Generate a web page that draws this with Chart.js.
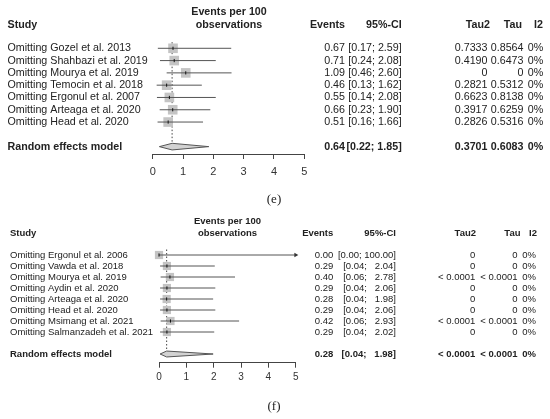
<!DOCTYPE html>
<html>
<head>
<meta charset="utf-8">
<script src="https://cdn.jsdelivr.net/npm/chart.js@4.4.1/dist/chart.umd.min.js"></script>
<style>
  body { margin: 0; background: #fff; width: 550px; height: 419px; overflow: hidden; position: relative; }
  canvas { position: absolute; left: 0; }
  #chartE { top: 0; }
  #chartF { top: 210px; }
</style>
</head>
<body>
<canvas id="chartE" width="550" height="210"></canvas>
<canvas id="chartF" width="550" height="209"></canvas>
<script>
// ---- panel (e) ----
var studiesE = ["Omitting Gozel et al. 2013", "Omitting Shahbazi et al. 2019", "Omitting Mourya et al. 2019",
  "Omitting Temocin et al. 2018", "Omitting Ergonul et al. 2007", "Omitting Arteaga et al. 2020", "Omitting Head et al. 2020"];
var eventsE = [0.67, 0.71, 1.09, 0.46, 0.55, 0.66, 0.51];
var lowerE = [0.17, 0.24, 0.46, 0.13, 0.14, 0.23, 0.16];
var upperE = [2.59, 2.08, 2.60, 1.62, 2.08, 1.90, 1.66];
var tau2E = ["0.7333", "0.4190", "0", "0.2821", "0.6623", "0.3917", "0.2826"];
var tauE = ["0.8564", "0.6473", "0", "0.5312", "0.8138", "0.6259", "0.5316"];
var i2E = ["0%", "0%", "0%", "0%", "0%", "0%", "0%"];
var pooledE = [0.64, 0.22, 1.85];              // estimate, lower, upper
var pooledStatsE = ["0.3701", "0.6083", "0%"]; // tau2, tau, I2

// ---- panel (f) ----
var studiesF = ["Omitting Ergonul et al. 2006", "Omitting Vawda et al. 2018", "Omitting Mourya et al. 2019",
  "Omitting Aydin et al. 2020", "Omitting Arteaga et al. 2020", "Omitting Head et al. 2020",
  "Omitting Msimang et al. 2021", "Omitting Salmanzadeh et al. 2021"];
var eventsF = [0.00, 0.29, 0.40, 0.29, 0.28, 0.29, 0.42, 0.29];
var lowerF = [0.00, 0.04, 0.06, 0.04, 0.04, 0.04, 0.06, 0.04];
var upperF = [100.00, 2.04, 2.78, 2.06, 1.98, 2.06, 2.93, 2.02];
var tau2F = ["0", "0", "< 0.0001", "0", "0", "0", "< 0.0001", "0"];
var tauF = ["0", "0", "< 0.0001", "0", "0", "0", "< 0.0001", "0"];
var i2F = ["0%", "0%", "0%", "0%", "0%", "0%", "0%", "0%"];
var pooledF = [0.28, 0.04, 1.98];
var pooledStatsF = ["< 0.0001", "< 0.0001", "0%"];

var xTicks = [0, 1, 2, 3, 4, 5];

var SANS = "'Liberation Sans', Arial, sans-serif";
var TXT = "#222";

// R-style "[lo; hi]" with space padding to the widest entry
function ciLabels(lower, upper, pooled) {
  var lo = lower.concat([pooled[1]]).map(function (v) { return v.toFixed(2); });
  var hi = upper.concat([pooled[2]]).map(function (v) { return v.toFixed(2); });
  var wl = Math.max.apply(null, lo.map(function (s) { return s.length; }));
  var wh = Math.max.apply(null, hi.map(function (s) { return s.length; }));
  return lo.map(function (s, i) {
    return '[' + s.padStart(wl, ' ') + '; ' + hi[i].padStart(wh, ' ') + ']';
  });
}

function makePanel(id, d, L) {
  var n = d.studies.length;
  var pRow = n + 2;
  var xMax = xTicks[xTicks.length - 1];
  var ci = ciLabels(d.lower, d.upper, d.pooled);
  var rows = d.est.map(function (v, i) { return { x: v, y: i + 1 }; });
  var datasets = [];

  // little mark at each estimate
  datasets.push({ type: 'scatter', data: rows, pointStyle: 'line', rotation: 90, pointRadius: 1.6,
    borderColor: '#111', borderWidth: 1, clip: false });
  // arrow where CI runs off the axis
  datasets.push({ type: 'scatter', clip: false, pointStyle: 'triangle', rotation: 90, pointRadius: 2.6,
    backgroundColor: '#333', borderColor: '#333', borderWidth: 0,
    data: d.upper.map(function (v, i) { return v > xMax ? { x: xMax, y: i + 1 } : null; }).filter(Boolean) });
  // confidence intervals
  d.lower.forEach(function (lo, i) {
    datasets.push({ type: 'line', data: [{ x: lo, y: i + 1 }, { x: Math.min(d.upper[i], xMax), y: i + 1 }],
      borderColor: '#555', borderWidth: 1, pointRadius: 0, clip: false });
  });
  // weight squares
  datasets.push({ type: 'scatter', data: rows, pointStyle: 'rect', pointRadius: L.sq,
    backgroundColor: '#c4c4c4', borderWidth: 0, clip: false });
  // pooled diamond
  datasets.push({ type: 'line', clip: false, pointRadius: 0, borderColor: '#555', borderWidth: 1,
    backgroundColor: '#d2d2d2', fill: 'shape',
    data: [{ x: d.pooled[1], y: pRow }, { x: d.pooled[0], y: pRow - L.dh }, { x: d.pooled[2], y: pRow },
      { x: d.pooled[0], y: pRow + L.dh }, { x: d.pooled[1], y: pRow }] });
  // dotted reference line at pooled estimate
  datasets.push({ type: 'line', clip: false, pointRadius: 0, borderColor: '#444', borderWidth: 1,
    borderDash: [1.5, 2], data: [{ x: d.pooled[0], y: 0.5 }, { x: d.pooled[0], y: pRow - L.dh }] });

  var textPlugin = {
    id: 'forestText',
    afterDraw: function (chart) {
      var ctx = chart.ctx, ys = chart.scales.y;
      var oy = L.oy, c = L.cols, h = L.heads;
      function t(s, x, y, align, bold) {
        ctx.font = (bold ? 'bold ' : '') + L.fs + 'px ' + SANS;
        ctx.textAlign = align;
        ctx.fillText(s, x, y);
      }
      ctx.save();
      ctx.fillStyle = TXT;
      ctx.textBaseline = 'middle';
      // headers
      t('Events per 100', L.headC, L.h1 - oy, 'center', true);
      t('observations', L.headC, L.h2 - oy, 'center', true);
      t('Study', L.studyX, L.h2 - oy, 'left', true);
      t('Events', c.ev, L.h2 - oy, 'right', true);
      t('95%-CI', c.ci, L.h2 - oy, 'right', true);
      t('Tau2', h.tau2, L.h2 - oy, 'right', true);
      t('Tau', h.tau, L.h2 - oy, 'right', true);
      t('I2', h.i2, L.h2 - oy, 'right', true);
      // study rows
      for (var i = 0; i < n; i++) {
        var y = ys.getPixelForValue(i + 1);
        t(d.studies[i], L.studyX, y, 'left', false);
        t(d.est[i].toFixed(2), c.ev, y, 'right', false);
        t(ci[i], c.ci, y, 'right', false);
        t(d.tau2[i], c.tau2, y, 'right', false);
        t(d.tau[i], c.tau, y, 'right', false);
        t(d.i2[i], c.i2, y, 'right', false);
      }
      var py = ys.getPixelForValue(pRow);
      t('Random effects model', L.studyX, py, 'left', true);
      t(d.pooled[0].toFixed(2), c.ev, py, 'right', true);
      t(ci[n], c.ci, py, 'right', true);
      t(d.pstats[0], c.tau2, py, 'right', true);
      t(d.pstats[1], c.tau, py, 'right', true);
      t(d.pstats[2], c.i2, py, 'right', true);
      // panel tag
      ctx.font = '13px "Liberation Serif", "Times New Roman", serif';
      ctx.textAlign = 'center';
      ctx.fillText(L.tag, 274, L.tagY - oy);
      ctx.restore();
    }
  };

  return new Chart(document.getElementById(id), {
    type: 'scatter',
    data: { datasets: datasets },
    options: {
      responsive: false,
      animation: false,
      events: [],
      layout: { padding: { left: L.left, right: L.right, top: L.top, bottom: L.bottom } },
      plugins: { legend: { display: false }, tooltip: { enabled: false } },
      scales: {
        x: {
          type: 'linear', min: xTicks[0], max: xMax,
          afterBuildTicks: function (s) { s.ticks = xTicks.map(function (v) { return { value: v }; }); },
          ticks: { color: '#333', padding: L.tickPad, font: { family: SANS, size: L.tickSize } },
          grid: { drawOnChartArea: false, drawTicks: true, tickLength: 5, color: '#444' },
          border: { display: true, color: '#444' }
        },
        y: { type: 'linear', display: false, reverse: true, min: 0, max: L.yMax }
      }
    },
    plugins: [textPlugin]
  });
}

makePanel('chartE', {
  studies: studiesE, est: eventsE, lower: lowerE, upper: upperE,
  tau2: tau2E, tau: tauE, i2: i2E, pooled: pooledE, pstats: pooledStatsE
}, {
  oy: 0, fs: 10.7, tickSize: 11, tickPad: 6, sq: 6.8, dh: 0.27,
  left: 152.7, right: 245.7, top: 36, bottom: 25.8, yMax: 9.6,
  headC: 229, h1: 12, h2: 25, studyX: 7.5, tag: '(e)', tagY: 200,
  cols: { ev: 345, ci: 401.7, tau2: 487.5, tau: 523.5, i2: 543.3 },
  heads: { tau2: 490, tau: 522, i2: 543 }
});

makePanel('chartF', {
  studies: studiesF, est: eventsF, lower: lowerF, upper: upperF,
  tau2: tau2F, tau: tauF, i2: i2F, pooled: pooledF, pstats: pooledStatsF
}, {
  oy: 210, fs: 9.5, tickSize: 10, tickPad: 4, sq: 5.8, dh: 0.27,
  left: 159, right: 254.3, top: 34, bottom: 31.3, yMax: 10.79,
  headC: 227.5, h1: 221.7, h2: 233.3, studyX: 10, tag: '(f)', tagY: 406.7,
  cols: { ev: 333.3, ci: 396, tau2: 475.3, tau: 517.5, i2: 536 },
  heads: { tau2: 476, tau: 520.5, i2: 537 }
});
</script>
</body>
</html>
